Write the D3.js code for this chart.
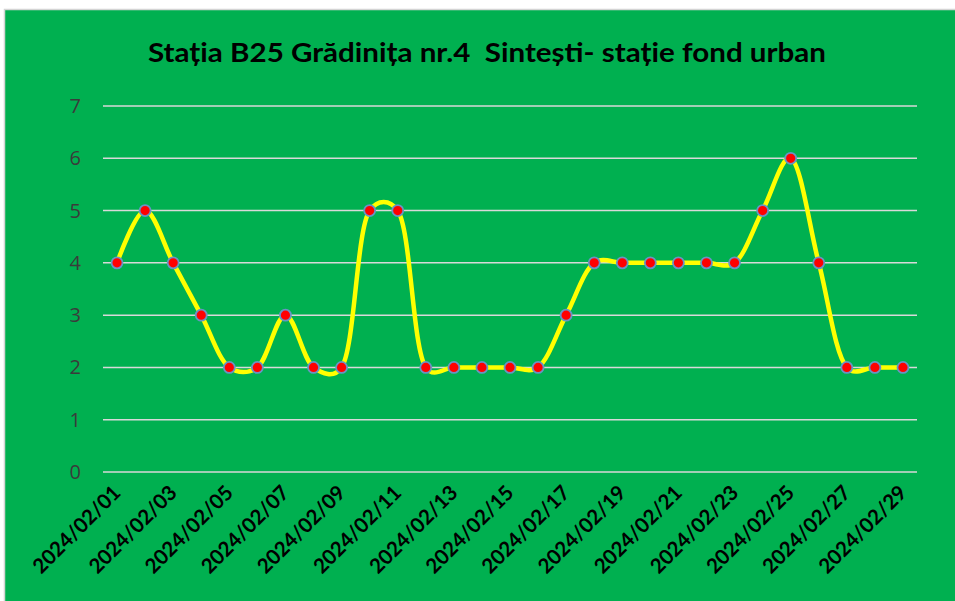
<!DOCTYPE html>
<html>
<head>
<meta charset="utf-8">
<script src="https://cdn.jsdelivr.net/npm/d3@7"></script>
<style>
  body { margin:0; background:#fff; }
  svg { display:block; }
</style>
</head>
<body>
<svg id="chart" width="955" height="601"></svg>
<script>
// data
const days = ["2024/02/01","2024/02/02","2024/02/03","2024/02/04","2024/02/05","2024/02/06","2024/02/07",
  "2024/02/08","2024/02/09","2024/02/10","2024/02/11","2024/02/12","2024/02/13","2024/02/14",
  "2024/02/15","2024/02/16","2024/02/17","2024/02/18","2024/02/19","2024/02/20","2024/02/21",
  "2024/02/22","2024/02/23","2024/02/24","2024/02/25","2024/02/26","2024/02/27","2024/02/28","2024/02/29"]
const values = [4,5,4,3,2,2,3,2,2,5,5,2,2,2,2,2,3,4,4,4,4,4,4,5,6,4,2,2,2]
const yTicks = [0,1,2,3,4,5,6,7]
const title = "Stația B25 Grădinița nr.4  Sintești- stație fond urban"

const svg = d3.select("#chart")

// background panel
svg.append("rect")
  .attr("x",4.5).attr("y",9.5)
  .attr("width",952).attr("height",593)
  .attr("fill","#00B050")
  .attr("stroke","#d4d4d4")
  .attr("stroke-width",1.5)

svg.append("text")
  .attr("x",487).attr("y",62)
  .attr("text-anchor","middle")
  .attr("font-family","Lato, 'Open Sans', sans-serif")
  .attr("font-weight","bold")
  .attr("font-size",27)
  .attr("textLength",678)
  .attr("lengthAdjust","spacingAndGlyphs")
  .style("white-space","pre")
  .attr("fill","#000")
  .text(title)

const x = d3.scaleBand().domain(days).range([103,917])
const y = d3.scaleLinear().domain([0,7]).range([472,106])

// gridlines
svg.append("g").selectAll("line")
  .data(yTicks)
  .join("line")
  .attr("x1",103).attr("x2",917)
  .attr("y1",d=>y(d)).attr("y2",d=>y(d))
  .attr("stroke","#d9d9d9")
  .attr("stroke-width",1.5)

// y labels
svg.append("g").selectAll("text")
  .data(yTicks)
  .join("text")
  .attr("x",81).attr("y",d=>y(d)+7)
  .attr("text-anchor","end")
  .attr("font-family","'Open Sans', sans-serif")
  .attr("font-size",20)
  .attr("fill","#3b3b3b")
  .text(d=>d)

// x labels, every other day
svg.append("g").selectAll("text")
  .data(days.filter((d,i)=>i%2==0))
  .join("text")
  .attr("transform",d=>`translate(${x(d)+x.bandwidth()/2+5},494) rotate(-45)`)
  .attr("text-anchor","end")
  .attr("font-family","Lato, 'Open Sans', sans-serif")
  .attr("font-weight","bold")
  .attr("font-size",20.5)
  .attr("fill","#000")
  .text(d=>d)

const cx = (d,i)=>x(days[i])+x.bandwidth()/2

const line = d3.line()
  .x(cx)
  .y(d=>y(d))
  .curve(d3.curveCatmullRom.alpha(0.3))

svg.append("path")
  .datum(values)
  .attr("d",line)
  .attr("fill","none")
  .attr("stroke","#FFFF00")
  .attr("stroke-width",4.5)

svg.append("g").selectAll("circle")
  .data(values)
  .join("circle")
  .attr("cx",cx)
  .attr("cy",d=>y(d))
  .attr("r",5.5)
  .attr("fill","#FF0000")
  .attr("stroke","#6a93c4")
  .attr("stroke-width",1.8)
</script>
</body>
</html>
